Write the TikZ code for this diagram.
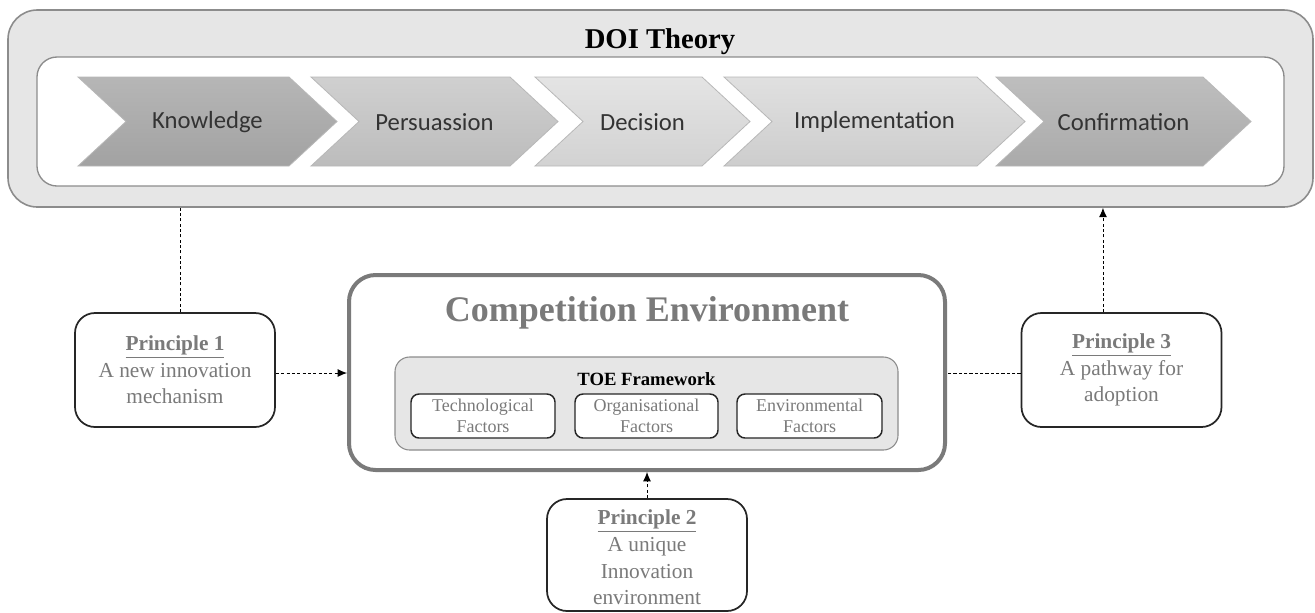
\documentclass[tikz,border=0pt]{standalone}
\usepackage{fontspec}
\setmainfont{Liberation Serif}
\newfontfamily\chevfont{Carlito}
\usetikzlibrary{arrows.meta}
\definecolor{outerfill}{HTML}{E6E6E6}
\definecolor{outerline}{HTML}{8C8C8C}
\definecolor{txtgray}{HTML}{7A7A7A}
\definecolor{compline}{HTML}{7A7A7A}
\definecolor{chevline}{HTML}{B8B8B8}
\definecolor{chevtxt}{HTML}{333333}
\definecolor{kT}{HTML}{B6B6B6}\definecolor{kB}{HTML}{A2A2A2}
\definecolor{pT}{HTML}{D0D0D0}\definecolor{pB}{HTML}{BCBCBC}
\definecolor{dT}{HTML}{E4E4E4}\definecolor{dB}{HTML}{D2D2D2}
\definecolor{iT}{HTML}{E0E0E0}\definecolor{iB}{HTML}{CDCDCD}
\definecolor{cT}{HTML}{BEBEBE}\definecolor{cB}{HTML}{AAAAAA}
\tikzset{
  outerbox/.style={draw=outerline, line width=1.2pt, fill=outerfill, rounded corners=22pt, inner sep=0pt},
  innerbox/.style={draw=outerline, line width=1pt, fill=white, rounded corners=15pt, inner sep=0pt},
  compbox/.style={draw=compline, line width=3pt, fill=white, rounded corners=20pt, inner sep=0pt},
  toebox/.style={draw=outerline, line width=0.8pt, fill=outerfill, rounded corners=11pt, inner sep=0pt},
  factorbox/.style={draw=black!85, line width=1.1pt, fill=white, rounded corners=6pt, inner sep=0pt,
     font=\fontsize{13.5}{15.75}\selectfont, text=txtgray, align=center},
  princbox/.style={draw=black!85, line width=1.3pt, fill=white, rounded corners=15pt, inner sep=0pt,
     font=\fontsize{16}{20}\selectfont, text=txtgray, align=center, minimum width=150pt},
  chevlabel/.style={font=\chevfont\fontsize{18.5}{22}\selectfont, text=chevtxt, inner sep=0pt},
  conn/.style={draw=black, line width=0.7pt, dash pattern=on 2.4pt off 1.6pt},
  arr/.style={conn, -{Latex[length=7pt,width=6pt]}},
}
\begin{document}
\begin{tikzpicture}[x=0.75pt,y=-0.75pt]
\useasboundingbox (0,0) rectangle (1315,612);
% DOI outer box
\node[outerbox, minimum width=978.75pt, minimum height=147.75pt] (doi) at (660.5,108.5) {};
\node[font=\fontsize{21.5}{24}\selectfont\bfseries, anchor=base, inner sep=0pt] (doititle) at (660,48) {DOI Theory};
\node[innerbox, minimum width=935.25pt, minimum height=96.75pt] (inner) at (660.5,121.5) {};
% chevrons
\foreach \L/\T/\nm/\txt/\ct/\cb in {78/337/c1/Knowledge/kT/kB, 311/558/c2/Persuassion/pT/pB, 535/750/c3/Decision/dT/dB, 724/1025/c4/Implementation/iT/iB, 996/1251/c5/Confirmation/cT/cB}{
  \path[draw=chevline, line width=0.6pt, top color=\ct, bottom color=\cb]
    (\L,77) -- ({\T-48},77) -- (\T,121.5) -- ({\T-48},166) -- (\L,166) -- ({\L+48},121.5) -- cycle;
  \node[chevlabel] (\nm) at ({(\L+\T)/2},122) {\txt};
}
% Competition environment
\node[compbox, minimum width=447pt, minimum height=146.25pt] (comp) at (647,372.5) {};
\node[font=\fontsize{27}{30}\selectfont\bfseries, text=txtgray, anchor=base, inner sep=0pt] (comptitle) at (647,321) {Competition Environment};
\node[toebox, minimum width=377.25pt, minimum height=69.75pt] (toe) at (646.5,403.5) {};
\node[font=\fontsize{14}{16}\selectfont\bfseries, anchor=base, inner sep=0pt] (toetitle) at (646.5,385) {TOE Framework};
\node[factorbox, minimum width=108pt, minimum height=33pt, text depth=0pt] (tech) at (483,416) {Technological\\Factors};
\node[factorbox, minimum width=107.25pt, minimum height=33pt] (org) at (646.5,416) {Organisational\\Factors};
\node[factorbox, minimum width=108.75pt, minimum height=33pt] (env) at (809.5,416) {Environmental\\Factors};
% principles
\node[princbox, minimum height=85.5pt] (p1) at (175,370) {\textbf{\underline{Principle 1}}\\A new innovation\\mechanism};
\node[princbox, minimum height=85.5pt] (p3) at (1121.5,370) {\textbf{\underline{Principle 3}}\\A pathway for\\adoption};
\node[princbox, minimum height=84pt] (p2) at (647,555) {};
\node[font=\fontsize{16}{20}\selectfont, text=txtgray, align=center, inner sep=0pt] (p2text) at (647,557.5) {\textbf{\underline{Principle 2}}\\A unique\\Innovation\\environment};
% connectors
\draw[conn] ([xshift=3.75pt]p1.north) -- ([xshift=3.75pt]p1.north |- doi.south);
\draw[arr] ([yshift=-2.25pt]p1.east) -- ([yshift=-2.25pt]p1.east -| comp.west);
\draw[conn] ([yshift=-2.25pt]p3.west) -- ([yshift=-2.25pt]p3.west -| comp.east);
\draw[arr] ([xshift=-13.9pt]p3.north) -- ([xshift=-13.9pt]p3.north |- doi.south);
\draw[arr] (p2.north) -- (p2.north |- comp.south);
\end{tikzpicture}
\end{document}
